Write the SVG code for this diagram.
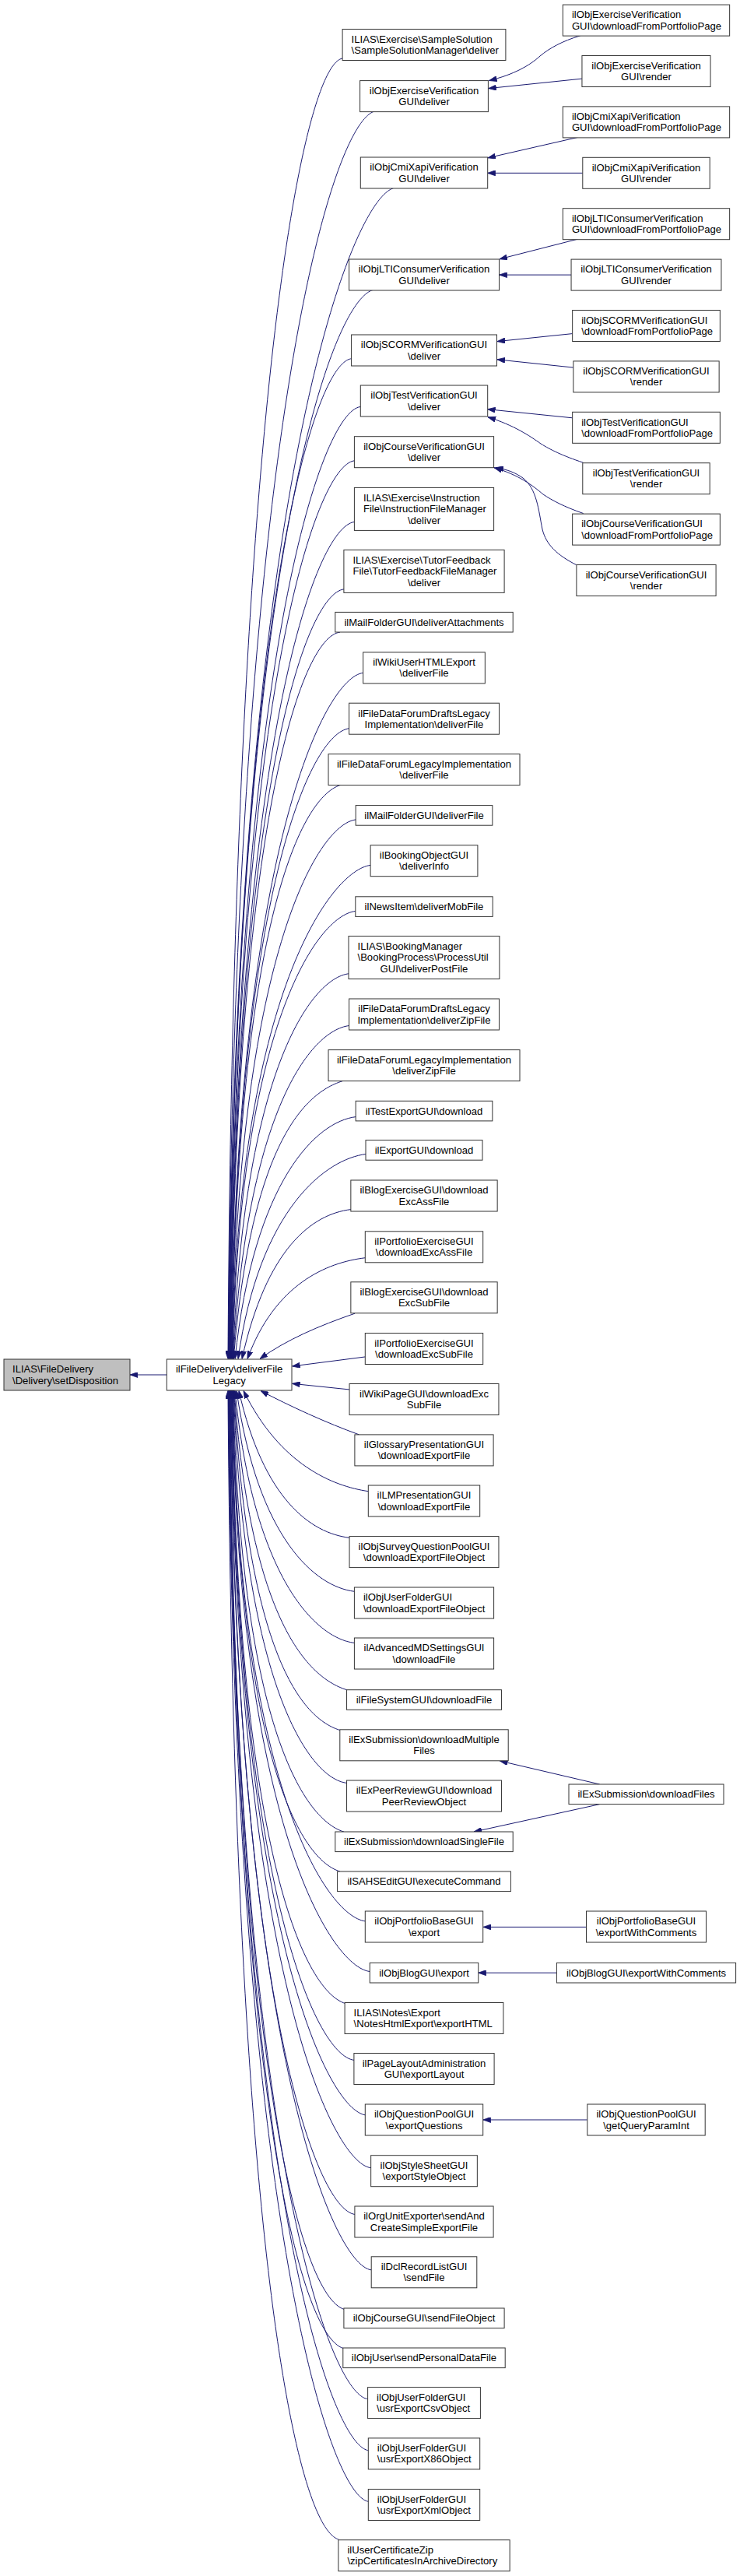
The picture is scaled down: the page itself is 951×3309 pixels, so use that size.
<svg xmlns="http://www.w3.org/2000/svg" width="951" height="3309" viewBox="0 0 951 3309">
<style>
rect{fill:#fff;stroke:#333;stroke-width:1}
rect.sel{fill:#bfbfbf}
text{font-family:"Liberation Sans",Arial,Helvetica,sans-serif;font-size:13.1px;fill:#000}
.c{text-anchor:middle}
.l{text-anchor:start}
.e{fill:none;stroke:#191970;stroke-width:1;marker-end:url(#ah)}
</style>
<defs>
<marker id="ah" viewBox="0 0 10 7" markerWidth="10" markerHeight="7" refX="10" refY="3.5" orient="auto" markerUnits="userSpaceOnUse">
<path d="M0,0 L10,3.5 L0,7 z" fill="#191970" stroke="#191970" stroke-width="0.8"/>
</marker>
</defs>
<rect x="0" y="0" width="951" height="3309" style="fill:#fff;stroke:none"/>
<g id="edges">
<path class="e" d="M214.3,1766 L167,1766"/>
<path class="e" d="M440.4,75 C390.4,81 300,509.5 293,1745.5"/>
<path class="e" d="M480.8,143.2 C425.8,160.2 300.4,559.9 293.4,1745.5"/>
<path class="e" d="M505.4,241.8 C450.4,258.8 300.8,632.9 293.8,1745.5"/>
<path class="e" d="M479,372.5 C424,389.5 301.2,729.6 294.2,1745.5"/>
<path class="e" d="M451.7,460.7 C401.7,466.7 301.6,794.9 294.6,1745.5"/>
<path class="e" d="M463.2,522.5 C413.2,528.5 302,840.6 295,1745.5"/>
<path class="e" d="M455.5,591.8 C405.5,597.8 302.4,891.9 295.4,1745.5"/>
<path class="e" d="M455.5,670.4 C405.5,676.4 302.8,950.1 295.8,1745.5"/>
<path class="e" d="M442.2,756.8 C392.2,762.8 303.2,1014 296.2,1745.5"/>
<path class="e" d="M436.9,812.1 C386.9,818.1 303.6,1054.9 296.6,1745.5"/>
<path class="e" d="M466.8,864.3 C416.8,870.3 304,1093.5 297,1745.5"/>
<path class="e" d="M448.8,935.7 C398.8,941.7 304.4,1146.4 297.4,1745.5"/>
<path class="e" d="M438,1008.2 C383,1025.2 304.8,1200 297.8,1745.5"/>
<path class="e" d="M457.3,1052.9 C407.3,1058.9 305.2,1233.1 298.2,1745.5"/>
<path class="e" d="M476.2,1111.4 C426.2,1117.4 305.6,1276.4 298.6,1745.5"/>
<path class="e" d="M456.9,1170.4 C406.9,1176.4 307.5,1320.1 299,1745.5"/>
<path class="e" d="M448.5,1250.7 C398.5,1256.7 312.7,1379.5 299.4,1745.5"/>
<path class="e" d="M448.8,1317.5 C398.8,1323.5 317.1,1428.9 299.8,1745.5"/>
<path class="e" d="M440.4,1388.6 C385.4,1405.6 321.8,1481.5 300.2,1745.5"/>
<path class="e" d="M457.3,1434.6 C407.3,1440.6 326.3,1515.6 302,1745.5"/>
<path class="e" d="M470.3,1482.5 C420.3,1488.5 333.2,1551 306,1745.5"/>
<path class="e" d="M451,1553.6 C401,1559.6 342.5,1603.6 311,1745.5"/>
<path class="e" d="M469.6,1615.7 C419.6,1621.7 353.2,1649.5 318,1745.5"/>
<path class="e" d="M456.2,1687.1 C410,1703 368,1721 334,1745.5"/>
<path class="e" d="M469.6,1742.9 L375.5,1755"/>
<path class="e" d="M449.5,1785 L375.5,1777.3"/>
<path class="e" d="M461.5,1842.9 C420,1828 372,1806 335,1786.5"/>
<path class="e" d="M473.4,1915.7 C428,1909 360,1882.1 313,1786.5"/>
<path class="e" d="M449.5,1975.4 C399.5,1969.4 338.6,1926.2 307,1786.5"/>
<path class="e" d="M455.5,2044.3 C405.5,2038.3 331.5,1977.1 304,1786.5"/>
<path class="e" d="M455.5,2110.4 C405.5,2104.4 325.5,2026.1 302,1786.5"/>
<path class="e" d="M445.7,2170.7 C390.7,2153.7 321,2070.7 301.1,1786.5"/>
<path class="e" d="M436.9,2222.5 C381.9,2205.5 317.4,2109 300.6,1786.5"/>
<path class="e" d="M445.7,2290.4 C395.7,2284.4 313,2159.4 300.2,1786.5"/>
<path class="e" d="M442.2,2353.2 C387.2,2336.2 308.7,2205.9 299.7,1786.5"/>
<path class="e" d="M436.9,2404 C381.9,2387 306.3,2243.3 299.3,1786.5"/>
<path class="e" d="M469.6,2467.9 C419.6,2461.9 305.8,2290.6 298.8,1786.5"/>
<path class="e" d="M475.2,2532.5 C425.2,2526.5 305.4,2338.4 298.4,1786.5"/>
<path class="e" d="M443.9,2573.6 C388.9,2556.6 304.9,2368.8 297.9,1786.5"/>
<path class="e" d="M455.2,2646.4 C405.2,2640.4 304.5,2422.7 297.5,1786.5"/>
<path class="e" d="M470.3,2717 C420.3,2711 304,2475 297,1786.5"/>
<path class="e" d="M476.6,2784.7 C426.6,2778.7 303.6,2525 296.6,1786.5"/>
<path class="e" d="M456.2,2844.5 C406.2,2838.5 303.1,2569.3 296.1,1786.5"/>
<path class="e" d="M477.3,2915.9 C427.3,2909.9 302.7,2622.1 295.7,1786.5"/>
<path class="e" d="M442.2,2966.4 C387.2,2949.4 302.2,2659.5 295.2,1786.5"/>
<path class="e" d="M441.1,3016.5 C386.1,2999.5 301.8,2696.6 294.8,1786.5"/>
<path class="e" d="M472.7,3081.7 C422.7,3075.7 301.3,2744.8 294.3,1786.5"/>
<path class="e" d="M473.8,3147.8 C423.8,3141.8 300.9,2793.7 293.9,1786.5"/>
<path class="e" d="M473.8,3213.4 C423.8,3207.4 300.4,2842.3 293.4,1786.5"/>
<path class="e" d="M435.1,3262 C380.1,3245 300,2878.4 293,1786.5"/>
<path class="e" d="M746.1,45.7 C722,53 706,62 694,72 C681,84 660,96 628.5,103.5"/>
<path class="e" d="M747.9,101.1 L627.7,113.6"/>
<path class="e" d="M742.6,176.4 L626.9,202.8"/>
<path class="e" d="M748.8,222.3 L626.6,222.3"/>
<path class="e" d="M742.6,307.1 L642,332.8"/>
<path class="e" d="M734.05,353.1 L641.7,353.1"/>
<path class="e" d="M735.6,428.6 L638.9,438.6"/>
<path class="e" d="M736.8,472.1 L638.9,461.8"/>
<path class="e" d="M735.6,536.8 L626.6,525.7"/>
<path class="e" d="M749.6,594.3 C722,585 708,578 695,570 C681,560 660,546 627,535.8"/>
<path class="e" d="M749.6,659.5 C725,651 710,643 698,635 C685,624 667,610 635,600.8"/>
<path class="e" d="M740.8,725.7 C716,713 702,700 697,680 C692,655 690,628 672,614 C662,607 652,603 637,600.8"/>
<path class="e" d="M770.7,2292 L642.4,2262"/>
<path class="e" d="M770.7,2317.6 L609.1,2353"/>
<path class="e" d="M753.5,2475.4 L621,2475.4"/>
<path class="e" d="M715.4,2534.2 L614.7,2534.2"/>
<path class="e" d="M754.8,2723 L620.7,2723"/>
</g>
<g id="setDisposition"><rect class="sel" x="5" y="1746" width="162" height="40"/><text class="l" x="16" y="1763.3">ILIAS\FileDelivery</text><text class="l" x="16" y="1777.5">\Delivery\setDisposition</text></g>
<g id="deliverFileLegacy"><rect x="214.3" y="1746" width="160.7" height="40"/><text class="c" x="294.65" y="1763.3">ilFileDelivery\deliverFile</text><text class="c" x="294.65" y="1777.5">Legacy</text></g>
<g id="n1"><rect x="440.1" y="37.5" width="209.8" height="40"/><text class="l" x="451.6" y="54.8">ILIAS\Exercise\SampleSolution</text><text class="l" x="451.6" y="69">\SampleSolutionManager\deliver</text></g>
<g id="n2"><rect x="462.6" y="103.6" width="164.8" height="40"/><text class="c" x="545" y="120.9">ilObjExerciseVerification</text><text class="c" x="545" y="135.1">GUI\deliver</text></g>
<g id="n3"><rect x="463.3" y="202" width="163.4" height="40"/><text class="c" x="545" y="219.3">ilObjCmiXapiVerification</text><text class="c" x="545" y="233.5">GUI\deliver</text></g>
<g id="n4"><rect x="448.6" y="333" width="192.9" height="40"/><text class="c" x="545" y="350.3">ilObjLTIConsumerVerification</text><text class="c" x="545" y="364.5">GUI\deliver</text></g>
<g id="n5"><rect x="451.6" y="430" width="186.9" height="40"/><text class="c" x="545" y="447.3">ilObjSCORMVerificationGUI</text><text class="c" x="545" y="461.5">\deliver</text></g>
<g id="n6"><rect x="463.3" y="495" width="163.4" height="40"/><text class="c" x="545" y="512.3">ilObjTestVerificationGUI</text><text class="c" x="545" y="526.5">\deliver</text></g>
<g id="n7"><rect x="455.4" y="560.7" width="179.2" height="40"/><text class="c" x="545" y="578">ilObjCourseVerificationGUI</text><text class="c" x="545" y="592.2">\deliver</text></g>
<g id="n8"><rect x="455.4" y="626.4" width="179.2" height="55"/><text class="l" x="466.9" y="644.1">ILIAS\Exercise\Instruction</text><text class="l" x="466.9" y="658.3">File\InstructionFileManager</text><text class="c" x="545" y="672.5">\deliver</text></g>
<g id="n9"><rect x="441.9" y="706.4" width="206.2" height="55"/><text class="l" x="453.4" y="724.1">ILIAS\Exercise\TutorFeedback</text><text class="l" x="453.4" y="738.3">File\TutorFeedbackFileManager</text><text class="c" x="545" y="752.5">\deliver</text></g>
<g id="n10"><rect x="430.8" y="786.4" width="228.4" height="25.6"/><text class="c" x="545" y="803.6">ilMailFolderGUI\deliverAttachments</text></g>
<g id="n11"><rect x="466.65" y="837.9" width="156.7" height="40"/><text class="c" x="545" y="855.2">ilWikiUserHTMLExport</text><text class="c" x="545" y="869.4">\deliverFile</text></g>
<g id="n12"><rect x="448.6" y="903.2" width="192.9" height="40"/><text class="c" x="545" y="920.5">ilFileDataForumDraftsLegacy</text><text class="c" x="545" y="934.7">Implementation\deliverFile</text></g>
<g id="n13"><rect x="422" y="968.6" width="246" height="40"/><text class="c" x="545" y="985.9">ilFileDataForumLegacyImplementation</text><text class="c" x="545" y="1000.1">\deliverFile</text></g>
<g id="n14"><rect x="457.15" y="1034.6" width="175.7" height="25.6"/><text class="c" x="545" y="1051.8">ilMailFolderGUI\deliverFile</text></g>
<g id="n15"><rect x="476.1" y="1085.7" width="137.8" height="40"/><text class="c" x="545" y="1103">ilBookingObjectGUI</text><text class="c" x="545" y="1117.2">\deliverInfo</text></g>
<g id="n16"><rect x="456.8" y="1151.8" width="176.4" height="25.6"/><text class="c" x="545" y="1169">ilNewsItem\deliverMobFile</text></g>
<g id="n17"><rect x="448" y="1202.5" width="193.9" height="55"/><text class="l" x="459.5" y="1220.2">ILIAS\BookingManager</text><text class="l" x="459.5" y="1234.4">\BookingProcess\ProcessUtil</text><text class="c" x="545" y="1248.6">GUI\deliverPostFile</text></g>
<g id="n18"><rect x="448.6" y="1283" width="192.9" height="40"/><text class="c" x="545" y="1300.3">ilFileDataForumDraftsLegacy</text><text class="c" x="545" y="1314.5">Implementation\deliverZipFile</text></g>
<g id="n19"><rect x="422" y="1348.6" width="246" height="40"/><text class="c" x="545" y="1365.9">ilFileDataForumLegacyImplementation</text><text class="c" x="545" y="1380.1">\deliverZipFile</text></g>
<g id="n20"><rect x="457.15" y="1414.3" width="175.7" height="25.6"/><text class="c" x="545" y="1431.5">ilTestExportGUI\download</text></g>
<g id="n21"><rect x="470" y="1464.6" width="150" height="25.6"/><text class="c" x="545" y="1481.8">ilExportGUI\download</text></g>
<g id="n22"><rect x="450.85" y="1516" width="188.3" height="40"/><text class="c" x="545" y="1533.3">ilBlogExerciseGUI\download</text><text class="c" x="545" y="1547.5">ExcAssFile</text></g>
<g id="n23"><rect x="469.3" y="1581.8" width="151.4" height="40"/><text class="c" x="545" y="1599.1">ilPortfolioExerciseGUI</text><text class="c" x="545" y="1613.3">\downloadExcAssFile</text></g>
<g id="n24"><rect x="450.85" y="1646.8" width="188.3" height="40"/><text class="c" x="545" y="1664.1">ilBlogExerciseGUI\download</text><text class="c" x="545" y="1678.3">ExcSubFile</text></g>
<g id="n25"><rect x="469.3" y="1712.5" width="151.4" height="40"/><text class="c" x="545" y="1729.8">ilPortfolioExerciseGUI</text><text class="c" x="545" y="1744">\downloadExcSubFile</text></g>
<g id="n26"><rect x="449.05" y="1777.5" width="191.9" height="40"/><text class="c" x="545" y="1794.8">ilWikiPageGUI\downloadExc</text><text class="c" x="545" y="1809">SubFile</text></g>
<g id="n27"><rect x="455.9" y="1842.9" width="178.2" height="40"/><text class="c" x="545" y="1860.2">ilGlossaryPresentationGUI</text><text class="c" x="545" y="1874.4">\downloadExportFile</text></g>
<g id="n28"><rect x="473.3" y="1908" width="143.4" height="40"/><text class="c" x="545" y="1925.3">ilLMPresentationGUI</text><text class="c" x="545" y="1939.5">\downloadExportFile</text></g>
<g id="n29"><rect x="449.05" y="1973.6" width="191.9" height="40"/><text class="c" x="545" y="1990.9">ilObjSurveyQuestionPoolGUI</text><text class="c" x="545" y="2005.1">\downloadExportFileObject</text></g>
<g id="n30"><rect x="455.4" y="2039" width="179.2" height="40"/><text class="l" x="466.9" y="2056.3">ilObjUserFolderGUI</text><text class="l" x="466.9" y="2070.5">\downloadExportFileObject</text></g>
<g id="n31"><rect x="455.4" y="2104" width="179.2" height="40"/><text class="c" x="545" y="2121.3">ilAdvancedMDSettingsGUI</text><text class="c" x="545" y="2135.5">\downloadFile</text></g>
<g id="n32"><rect x="445.55" y="2170.7" width="198.9" height="25.6"/><text class="c" x="545" y="2187.9">ilFileSystemGUI\downloadFile</text></g>
<g id="n33"><rect x="436.8" y="2221.8" width="216.4" height="40"/><text class="c" x="545" y="2239.1">ilExSubmission\downloadMultiple</text><text class="c" x="545" y="2253.3">Files</text></g>
<g id="n34"><rect x="445.55" y="2287" width="198.9" height="40"/><text class="c" x="545" y="2304.3">ilExPeerReviewGUI\download</text><text class="c" x="545" y="2318.5">PeerReviewObject</text></g>
<g id="n35"><rect x="430.8" y="2353" width="228.4" height="25.6"/><text class="c" x="545" y="2370.2">ilExSubmission\downloadSingleFile</text></g>
<g id="n36"><rect x="433.6" y="2404" width="222.8" height="25.6"/><text class="c" x="545" y="2421.2">ilSAHSEditGUI\executeCommand</text></g>
<g id="n37"><rect x="469.3" y="2455" width="151.4" height="40"/><text class="c" x="545" y="2472.3">ilObjPortfolioBaseGUI</text><text class="c" x="545" y="2486.5">\export</text></g>
<g id="n38"><rect x="475.25" y="2521.4" width="139.5" height="25.6"/><text class="c" x="545" y="2538.6">ilObjBlogGUI\export</text></g>
<g id="n39"><rect x="443.1" y="2572.5" width="203.8" height="40"/><text class="l" x="454.6" y="2589.8">ILIAS\Notes\Export</text><text class="l" x="454.6" y="2604">\NotesHtmlExport\exportHTML</text></g>
<g id="n40"><rect x="454.9" y="2637.5" width="180.2" height="40"/><text class="c" x="545" y="2654.8">ilPageLayoutAdministration</text><text class="c" x="545" y="2669">GUI\exportLayout</text></g>
<g id="n41"><rect x="469.3" y="2703" width="151.4" height="40"/><text class="c" x="545" y="2720.3">ilObjQuestionPoolGUI</text><text class="c" x="545" y="2734.5">\exportQuestions</text></g>
<g id="n42"><rect x="476.65" y="2768.7" width="136.7" height="40"/><text class="c" x="545" y="2786">ilObjStyleSheetGUI</text><text class="c" x="545" y="2800.2">\exportStyleObject</text></g>
<g id="n43"><rect x="455.9" y="2834" width="178.2" height="40"/><text class="c" x="545" y="2851.3">ilOrgUnitExporter\sendAnd</text><text class="c" x="545" y="2865.5">CreateSimpleExportFile</text></g>
<g id="n44"><rect x="477.2" y="2898.8" width="135.6" height="40"/><text class="c" x="545" y="2916.1">ilDclRecordListGUI</text><text class="c" x="545" y="2930.3">\sendFile</text></g>
<g id="n45"><rect x="441.9" y="2965" width="206.2" height="25.6"/><text class="c" x="545" y="2982.2">ilObjCourseGUI\sendFileObject</text></g>
<g id="n46"><rect x="440.8" y="3016" width="208.4" height="25.6"/><text class="c" x="545" y="3033.2">ilObjUser\sendPersonalDataFile</text></g>
<g id="n47"><rect x="472.6" y="3066.6" width="144.8" height="40"/><text class="l" x="484.1" y="3083.9">ilObjUserFolderGUI</text><text class="l" x="484.1" y="3098.1">\usrExportCsvObject</text></g>
<g id="n48"><rect x="473.3" y="3131.9" width="143.4" height="40"/><text class="l" x="484.8" y="3149.2">ilObjUserFolderGUI</text><text class="l" x="484.8" y="3163.4">\usrExportX86Object</text></g>
<g id="n49"><rect x="473.3" y="3197.5" width="143.4" height="40"/><text class="l" x="484.8" y="3214.8">ilObjUserFolderGUI</text><text class="l" x="484.8" y="3229">\usrExportXmlObject</text></g>
<g id="n50"><rect x="434.85" y="3262.7" width="220.3" height="40"/><text class="l" x="446.4" y="3280">ilUserCertificateZip</text><text class="l" x="446.4" y="3294.2">\zipCertificatesInArchiveDirectory</text></g>
<g id="r1"><rect x="723.35" y="6.1" width="214.3" height="40"/><text class="l" x="734.9" y="23.4">ilObjExerciseVerification</text><text class="l" x="734.9" y="37.6">GUI\downloadFromPortfolioPage</text></g>
<g id="r2"><rect x="747.95" y="71.5" width="165.1" height="40"/><text class="c" x="830.5" y="88.8">ilObjExerciseVerification</text><text class="c" x="830.5" y="103">GUI\render</text></g>
<g id="r3"><rect x="723.35" y="136.9" width="214.3" height="40"/><text class="l" x="734.9" y="154.2">ilObjCmiXapiVerification</text><text class="l" x="734.9" y="168.4">GUI\downloadFromPortfolioPage</text></g>
<g id="r4"><rect x="748.8" y="202.3" width="163.4" height="40"/><text class="c" x="830.5" y="219.6">ilObjCmiXapiVerification</text><text class="c" x="830.5" y="233.8">GUI\render</text></g>
<g id="r5"><rect x="723.35" y="267.7" width="214.3" height="40"/><text class="l" x="734.9" y="285">ilObjLTIConsumerVerification</text><text class="l" x="734.9" y="299.2">GUI\downloadFromPortfolioPage</text></g>
<g id="r6"><rect x="734.05" y="333.1" width="192.9" height="40"/><text class="c" x="830.5" y="350.4">ilObjLTIConsumerVerification</text><text class="c" x="830.5" y="364.6">GUI\render</text></g>
<g id="r7"><rect x="735.65" y="398.5" width="189.7" height="40"/><text class="l" x="747.2" y="415.8">ilObjSCORMVerificationGUI</text><text class="l" x="747.2" y="430">\downloadFromPortfolioPage</text></g>
<g id="r8"><rect x="736.85" y="463.9" width="187.3" height="40"/><text class="c" x="830.5" y="481.2">ilObjSCORMVerificationGUI</text><text class="c" x="830.5" y="495.4">\render</text></g>
<g id="r9"><rect x="735.65" y="529.3" width="189.7" height="40"/><text class="l" x="747.2" y="546.6">ilObjTestVerificationGUI</text><text class="l" x="747.2" y="560.8">\downloadFromPortfolioPage</text></g>
<g id="r10"><rect x="748.8" y="594.7" width="163.4" height="40"/><text class="c" x="830.5" y="612">ilObjTestVerificationGUI</text><text class="c" x="830.5" y="626.2">\render</text></g>
<g id="r11"><rect x="735.65" y="660.1" width="189.7" height="40"/><text class="l" x="747.2" y="677.4">ilObjCourseVerificationGUI</text><text class="l" x="747.2" y="691.6">\downloadFromPortfolioPage</text></g>
<g id="r12"><rect x="740.9" y="725.5" width="179.2" height="40"/><text class="c" x="830.5" y="742.8">ilObjCourseVerificationGUI</text><text class="c" x="830.5" y="757">\render</text></g>
<g id="r13"><rect x="731" y="2292" width="199" height="25.6"/><text class="c" x="830.5" y="2309.2">ilExSubmission\downloadFiles</text></g>
<g id="r14"><rect x="753.5" y="2455" width="154" height="40"/><text class="c" x="830.5" y="2472.3">ilObjPortfolioBaseGUI</text><text class="c" x="830.5" y="2486.5">\exportWithComments</text></g>
<g id="r15"><rect x="715.4" y="2521.4" width="230.2" height="25.6"/><text class="c" x="830.5" y="2538.6">ilObjBlogGUI\exportWithComments</text></g>
<g id="r16"><rect x="754.8" y="2703" width="151.4" height="40"/><text class="c" x="830.5" y="2720.3">ilObjQuestionPoolGUI</text><text class="c" x="830.5" y="2734.5">\getQueryParamInt</text></g>
</svg>
